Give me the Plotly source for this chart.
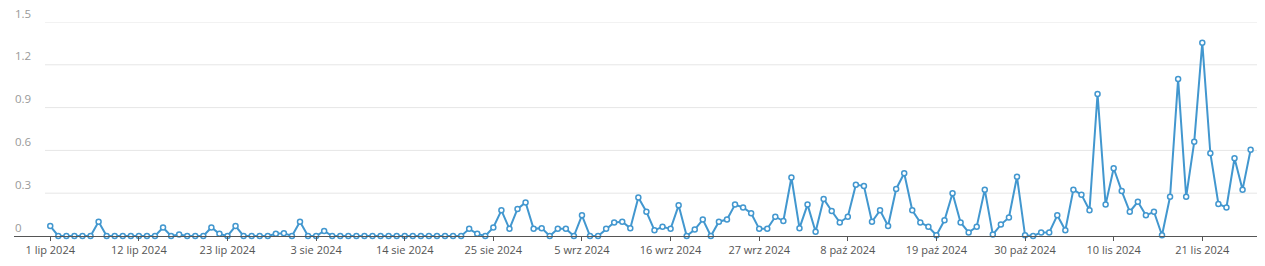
import plotly.graph_objects as go
import pandas as pd

start_date = "2024-07-01"
values = [
    0.07, 0, 0, 0, 0, 0, 0.10, 0, 0, 0,
    0, 0, 0, 0, 0.06, 0, 0.01, 0, 0, 0,
    0.06, 0.015, 0, 0.07, 0, 0, 0, 0, 0.015, 0.02,
    0, 0.10, 0, 0, 0.035, 0, 0, 0, 0, 0,
    0, 0, 0, 0, 0, 0, 0, 0, 0, 0,
    0, 0, 0.05, 0.015, 0, 0.06, 0.18, 0.05, 0.19, 0.235,
    0.05, 0.055, 0, 0.05, 0.05, 0, 0.145, 0, 0, 0.05,
    0.095, 0.10, 0.055, 0.27, 0.17, 0.04, 0.065, 0.05, 0.215, 0,
    0.045, 0.115, 0, 0.10, 0.115, 0.22, 0.20, 0.16, 0.05, 0.05,
    0.135, 0.105, 0.41, 0.055, 0.22, 0.03, 0.26, 0.175, 0.095, 0.135,
    0.36, 0.35, 0.10, 0.18, 0.07, 0.33, 0.44, 0.18, 0.095, 0.065,
    0.005, 0.11, 0.30, 0.095, 0.025, 0.065, 0.325, 0.01, 0.08, 0.13,
    0.415, 0.005, 0, 0.025, 0.025, 0.145, 0.04, 0.325, 0.29, 0.18,
    0.995, 0.22, 0.475, 0.315, 0.17, 0.24, 0.145, 0.17, 0.005, 0.275,
    1.10, 0.275, 0.66, 1.355, 0.58, 0.225, 0.20, 0.545, 0.325, 0.605,
]
dates = pd.date_range(start_date, periods=len(values), freq="D")

tick_dates = ["2024-07-01", "2024-07-12", "2024-07-23", "2024-08-03", "2024-08-14",
              "2024-08-25", "2024-09-05", "2024-09-16", "2024-09-27", "2024-10-08",
              "2024-10-19", "2024-10-30", "2024-11-10", "2024-11-21"]
tick_labels = ["1 lip 2024", "12 lip 2024", "23 lip 2024", "3 sie 2024", "14 sie 2024",
               "25 sie 2024", "5 wrz 2024", "16 wrz 2024", "27 wrz 2024", "8 paź 2024",
               "19 paź 2024", "30 paź 2024", "10 lis 2024", "21 lis 2024"]
y_ticks = [0, 0.3, 0.6, 0.9, 1.2, 1.5]
y_labels = ["0", "0.3", "0.6", "0.9", "1.2", "1.5"]

W, H = 1265, 266
ml, mr, mt, mb = 14, 8, 22, 30
line_color = "#4297cf"

fig = go.Figure()
fig.add_trace(go.Scatter(
    x=dates, y=values, mode="lines+markers",
    line=dict(color=line_color, width=2),
    marker=dict(symbol="circle", size=5, color="white",
                line=dict(color=line_color, width=1.5)),
    cliponaxis=False, showlegend=False,
))

plot_w = W - ml - mr
grid_x0 = (45 - ml) / plot_w
for v in y_ticks[1:]:
    fig.add_shape(type="line", xref="paper", yref="y", x0=grid_x0, x1=1, y0=v, y1=v,
                  line=dict(color="#e6e6e6", width=1), layer="below")

for v, lab in zip(y_ticks, y_labels):
    fig.add_annotation(xref="paper", yref="y", x=0, y=v, text=lab, showarrow=False,
                       xanchor="left", yanchor="middle", yshift=9, xshift=-1,
                       font=dict(family="Open Sans", size=11.5, color="#999999"))

fig.update_layout(
    width=W, height=H,
    margin=dict(l=ml, r=mr, t=mt, b=mb),
    paper_bgcolor="white", plot_bgcolor="white",
    font=dict(family="Open Sans", size=11, color="#666666"),
    xaxis=dict(
        type="date",
        range=["2024-06-26 12:00", "2024-11-27 19:00"],
        tickmode="array", tickvals=tick_dates, ticktext=tick_labels,
        showgrid=False, showline=True, linecolor="#555555", linewidth=1,
        ticks="outside", ticklen=4, tickcolor="#555555",
        tickfont=dict(color="#555555", size=11),
        zeroline=False,
    ),
    yaxis=dict(
        range=[0, 1.5], showticklabels=False,
        showgrid=False, zeroline=False, showline=False,
    ),
)

fig.write_html("out.html")
